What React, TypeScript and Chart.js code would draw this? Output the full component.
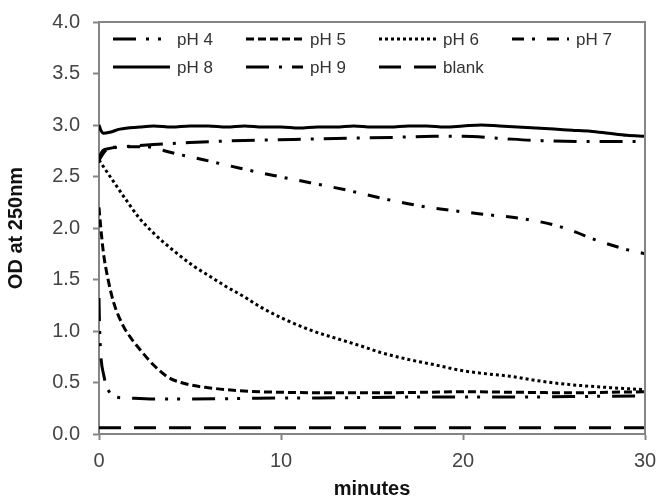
import { useEffect, useRef } from "react";
import { Chart, registerables } from "chart.js";

Chart.register(...registerables);

// ---- data (minutes, OD at 250nm) ----
const seriesLabels = ["pH 4", "pH 5", "pH 6", "pH 7", "pH 8", "pH 9", "blank"];

const ph4Times = [0, 0.03, 0.06, 0.12, 0.25, 0.4, 0.6, 0.9, 1.5, 3, 5, 8, 10, 12, 15, 18, 21, 24, 27, 30];
const ph4Values = [1.32, 1.05, 0.9, 0.72, 0.58, 0.47, 0.4, 0.36, 0.35, 0.34, 0.34, 0.345, 0.35, 0.35, 0.355, 0.36, 0.36, 0.36, 0.365, 0.37];

const ph5Times = [0, 0.1, 0.25, 0.5, 0.8, 1.3, 1.8, 2.25, 3, 3.8, 4.5, 5.2, 6, 7, 8.85, 10, 12.5, 15, 18, 20, 23, 26, 28, 30];
const ph5Values = [2.2, 2.0, 1.75, 1.5, 1.28, 1.06, 0.92, 0.82, 0.67, 0.55, 0.5, 0.47, 0.45, 0.43, 0.41, 0.405, 0.4, 0.4, 0.405, 0.41, 0.405, 0.4, 0.405, 0.41];

const ph6Times = [0, 0.15, 0.8, 1.5, 2.2, 3, 4.1, 5.2, 6.1, 7, 8, 8.8, 10, 11.6, 13, 14.3, 15.5, 17.1, 18.5, 19.8, 21, 22.6, 24, 25.3, 26.5, 28.1, 30];
const ph6Values = [2.66, 2.62, 2.45, 2.27, 2.1, 1.95, 1.78, 1.63, 1.53, 1.43, 1.33, 1.24, 1.13, 1.01, 0.93, 0.86, 0.79, 0.72, 0.67, 0.62, 0.59, 0.56, 0.52, 0.49, 0.47, 0.45, 0.43];

const ph7Times = [0, 0.3, 0.6, 1.5, 2.5, 3.2, 3.8, 4.5, 5.8, 7.75, 9.6, 11.6, 13.55, 15.5, 17.45, 19.4, 21.3, 23.3, 25.2, 26.2, 27.2, 29, 30];
const ph7Values = [2.66, 2.74, 2.78, 2.79, 2.79, 2.77, 2.74, 2.71, 2.66, 2.58, 2.51, 2.44, 2.37, 2.29, 2.22, 2.17, 2.13, 2.09, 2.02, 1.96, 1.89, 1.79, 1.75];

const ph8Times = [0, 0.1, 0.25, 0.6, 1.15, 2.25, 3, 4, 5, 6, 7, 8, 9, 10, 11, 12, 13, 14, 15, 16, 17, 18, 19, 20, 21, 22, 23, 24, 25, 26, 27, 28, 29, 30];
const ph8Values = [3.0, 2.95, 2.92, 2.93, 2.96, 2.98, 2.99, 2.98, 2.99, 2.99, 2.98, 2.99, 2.98, 2.98, 2.97, 2.98, 2.98, 2.99, 2.98, 2.98, 2.99, 2.99, 2.98, 2.99, 3.0, 2.99, 2.98, 2.97, 2.96, 2.95, 2.94, 2.92, 2.9, 2.89];

const ph9Times = [0, 0.2, 0.5, 1.5, 3, 5, 8, 10.7, 13, 16.2, 18.4, 20, 22, 24, 27, 30];
const ph9Values = [2.68, 2.75, 2.77, 2.79, 2.81, 2.83, 2.85, 2.86, 2.87, 2.88, 2.89, 2.89, 2.87, 2.85, 2.84, 2.84];

const blankTimes = [0, 5, 10, 15, 20, 25, 30];
const blankValues = [0.06, 0.06, 0.06, 0.06, 0.06, 0.06, 0.06];

const xTickValues = [0, 10, 20, 30];
const yTickValues = [0, 0.5, 1, 1.5, 2, 2.5, 3, 3.5, 4];

// ---- styles ----
const lineDashes: number[][] = [
  [23, 10, 3, 9, 3, 12],
  [8, 4],
  [3, 3],
  [12, 8, 3, 12],
  [],
  [23, 10, 3, 10],
  [22, 13],
];
const axisColor = "#858585";
const tickTextColor = "#444444";
const FONT = "'Liberation Sans', Arial, sans-serif";

const toPoints = (t: number[], v: number[]) => t.map((x, i) => ({ x, y: v[i] }));

const allSeries = [
  toPoints(ph4Times, ph4Values),
  toPoints(ph5Times, ph5Values),
  toPoints(ph6Times, ph6Values),
  toPoints(ph7Times, ph7Values),
  toPoints(ph8Times, ph8Values),
  toPoints(ph9Times, ph9Values),
  toPoints(blankTimes, blankValues),
];

const frameAndLegend = {
  id: "frameAndLegend",
  afterDatasetsDraw(chart: any) {
    const { ctx, chartArea: a } = chart;
    ctx.save();
    ctx.strokeStyle = axisColor;
    ctx.lineWidth = 2;
    ctx.setLineDash([]);
    ctx.beginPath();
    ctx.moveTo(a.left, a.top);
    ctx.lineTo(a.right, a.top);
    ctx.lineTo(a.right, a.bottom);
    ctx.stroke();

    chart.data.datasets.forEach((ds: any, i: number) => {
      const col = i % 4;
      const row = Math.floor(i / 4);
      const x0 = a.left + 14 + col * 133;
      const y = a.top + 17 + row * 28;
      ctx.strokeStyle = ds.borderColor;
      ctx.lineWidth = ds.borderWidth;
      ctx.setLineDash(ds.borderDash || []);
      ctx.beginPath();
      ctx.moveTo(x0, y);
      ctx.lineTo(x0 + 57, y);
      ctx.stroke();
      ctx.setLineDash([]);
      ctx.fillStyle = "#333333";
      ctx.font = `17px ${FONT}`;
      ctx.textBaseline = "middle";
      ctx.textAlign = "left";
      ctx.fillText(ds.label, x0 + 64, y + 1);
    });
    ctx.restore();
  },
};

export default function App() {
  const canvasRef = useRef<HTMLCanvasElement | null>(null);

  useEffect(() => {
    if (!canvasRef.current) return;
    const chart = new Chart(canvasRef.current, {
      type: "line",
      data: {
        datasets: allSeries.map((pts, i) => ({
          label: seriesLabels[i],
          data: pts,
          borderColor: "#000000",
          borderWidth: 3,
          borderDash: lineDashes[i],
          pointRadius: 0,
          cubicInterpolationMode: "monotone",
          fill: false,
        })),
      },
      options: {
        animation: false,
        responsive: true,
        maintainAspectRatio: false,
        layout: { padding: { top: 22, right: 14, left: 0, bottom: 0 } },
        plugins: {
          legend: { display: false },
          tooltip: { enabled: false },
        },
        scales: {
          x: {
            type: "linear",
            min: 0,
            max: 30,
            afterBuildTicks: (scale: any) => {
              scale.ticks = xTickValues.map((v) => ({ value: v }));
            },
            ticks: {
              font: { family: FONT, size: 20 },
              color: tickTextColor,
              padding: 9,
              maxRotation: 0,
            },
            grid: {
              display: true,
              drawOnChartArea: false,
              drawTicks: true,
              tickLength: 6,
              tickColor: axisColor,
              tickWidth: 2,
            },
            border: { display: true, color: axisColor, width: 2 },
            title: {
              display: true,
              text: "minutes",
              font: { family: FONT, size: 20, weight: "bold" },
              color: "#111111",
              padding: { top: 0, bottom: -3 },
            },
            afterFit: (scale: any) => {
              scale.height = 64;
              scale.paddingLeft = 0;
              scale.paddingRight = 0;
            },
          },
          y: {
            type: "linear",
            min: 0,
            max: 4,
            afterBuildTicks: (scale: any) => {
              scale.ticks = yTickValues.map((v) => ({ value: v }));
            },
            ticks: {
              font: { family: FONT, size: 20 },
              color: tickTextColor,
              padding: 13,
              callback: (v: any) => Number(v).toFixed(1),
            },
            grid: {
              display: true,
              drawOnChartArea: false,
              drawTicks: true,
              tickLength: 6,
              tickColor: axisColor,
              tickWidth: 2,
            },
            border: { display: true, color: axisColor, width: 2 },
            title: {
              display: true,
              text: "OD at 250nm",
              font: { family: FONT, size: 20, weight: "bold" },
              color: "#111111",
              padding: { top: 4, bottom: 4 },
            },
            afterFit: (scale: any) => {
              scale.width = 99;
              scale.paddingTop = 0;
              scale.paddingBottom = 0;
            },
          },
        },
      },
      plugins: [frameAndLegend],
    } as any);
    return () => chart.destroy();
  }, []);

  return (
    <div style={{ position: "absolute", left: 0, top: 0, width: 659, height: 498, background: "#ffffff" }}>
      <canvas ref={canvasRef} />
    </div>
  );
}
